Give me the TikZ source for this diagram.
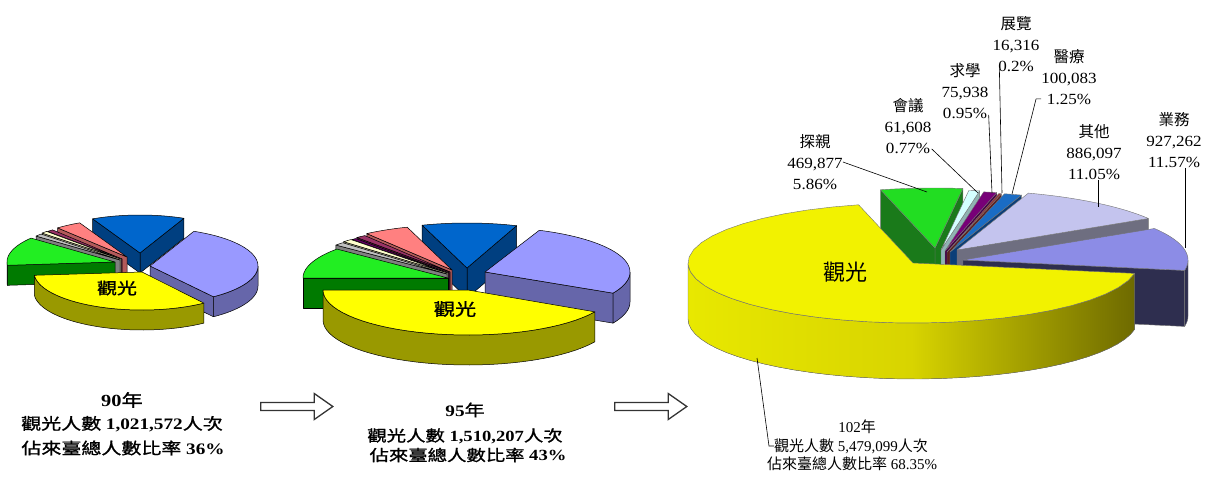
\documentclass[tikz,border=0pt]{standalone}
\usepackage{fontspec}
\setmainfont{Liberation Serif}
\newfontfamily\cjk{Noto Sans CJK TC}
\newfontfamily\cjkw{Noto Sans CJK TC}[FakeStretch=1.25,FakeBold=1.2]
\newfontfamily\latw{Liberation Serif}[FakeStretch=1.2]
\newfontfamily\latn{Liberation Serif}[FakeStretch=1.1]
\usetikzlibrary{shapes.arrows,positioning}
% colours of the first two pies
\definecolor{ytop}{HTML}{FFFF00}\definecolor{yside}{HTML}{999900}
\definecolor{ltop}{HTML}{9999FF}\definecolor{lside}{HTML}{6666AA}
\definecolor{btop}{HTML}{0066CC}\definecolor{bside}{HTML}{003F80}
\definecolor{ptop}{HTML}{FF8080}\definecolor{pside}{HTML}{B35A5A}
\definecolor{gtop}{HTML}{22EE22}\definecolor{gside}{HTML}{007A00}
\definecolor{mtop}{HTML}{993366}\definecolor{mside}{HTML}{5C1F3D}
\definecolor{ctop}{HTML}{FFFFCC}\definecolor{cside}{HTML}{B3B38F}
\definecolor{rtop}{HTML}{C0C0C0}\definecolor{rside}{HTML}{808080}
\definecolor{utop}{HTML}{660066}\definecolor{uside}{HTML}{400040}
% colours of the 102 pie
\definecolor{ytopc}{HTML}{F2F200}\definecolor{ysidel}{HTML}{E8E800}\definecolor{ysidem}{HTML}{D8D400}\definecolor{ysider}{HTML}{6E6A00}
\definecolor{wtopc}{HTML}{8C8CE6}\definecolor{wsidec}{HTML}{2E2E4F}
\definecolor{otopc}{HTML}{C4C4EE}\definecolor{osidec}{HTML}{6E6E80}
\definecolor{btopc}{HTML}{1A6CC4}\definecolor{bsidec}{HTML}{0B3E78}
\definecolor{mtopc}{HTML}{993333}\definecolor{msidec}{HTML}{5C1F1F}
\definecolor{utopc}{HTML}{770077}\definecolor{usidec}{HTML}{440044}
\definecolor{ctopc}{HTML}{D4FFFF}\definecolor{csidec}{HTML}{8FB3B3}
\definecolor{gtopc}{HTML}{22DD22}\definecolor{gsidec}{HTML}{1A7A1A}

\tikzset{pieline/.style={draw=black, line width=0.5pt, line join=round},
  lead/.style={draw=black, line width=0.6pt},
  lbl/.style={align=center, inner sep=0pt, font=\latn\fontsize{15.5}{21}\selectfont},
  captxt/.style={inner sep=0pt, font=\latw\bfseries\fontsize{16}{18}\selectfont},
  capsmall/.style={inner sep=0pt, font=\fontsize{15}{17}\selectfont},
  blockarr/.style={single arrow, draw=black!80, line width=1.3pt, fill=white, minimum height=72pt, minimum width=26pt, single arrow head extend=1.5pt, single arrow tip angle=70, inner sep=0pt}}

\newcommand{\cw}[1]{{\cjkw\mdseries #1}}
\newcommand{\cj}[1]{{\cjk #1}}
% outer rim of a slice between two angles
\newcommand{\sliceband}[5]{%
  \filldraw[pieline,#5] plot[domain=#3:#4,samples=36,variable=\t] ({#1+\pRx*cos(\t)},{#2-\pRy*sin(\t)})
    -- plot[domain=#4:#3,samples=36,variable=\t] ({#1+\pRx*cos(\t)},{#2+\pH-\pRy*sin(\t)}) -- cycle;}
% one exploded slice: cx, cy, from, to, top, rim, cut faces
\newcommand{\slicedraw}[7]{%
  \pgfmathsetmacro\slA{cos(#3)}\pgfmathsetmacro\slB{cos(#4)}%
  \ifdim\slA pt>0pt
    \filldraw[pieline,#7] (#1,#2) -- ({#1+\pRx*cos(#3)},{#2-\pRy*sin(#3)}) -- ++(0,\pH) -- (#1,{#2+\pH}) -- cycle;
  \fi
  \ifdim\slB pt<0pt
    \filldraw[pieline,#7] (#1,#2) -- ({#1+\pRx*cos(#4)},{#2-\pRy*sin(#4)}) -- ++(0,\pH) -- (#1,{#2+\pH}) -- cycle;
  \fi
  \pgfmathsetmacro\slLo{max(#3,180)}\pgfmathsetmacro\slHi{min(#4,360)}%
  \ifdim\slLo pt<\slHi pt \sliceband{#1}{#2}{\slLo}{\slHi}{#6}\fi
  \pgfmathsetmacro\slLo{max(#3,-180)}\pgfmathsetmacro\slHi{min(#4,0)}%
  \ifdim\slLo pt<\slHi pt \sliceband{#1}{#2}{\slLo}{\slHi}{#6}\fi
  \filldraw[pieline,#5] (#1,#2) -- plot[domain=#3:#4,samples=36,variable=\t] ({#1+\pRx*cos(\t)},{#2-\pRy*sin(\t)}) -- cycle;}

\begin{document}
\begin{tikzpicture}[x=1pt,y=-1pt]
\useasboundingbox (0,0) rectangle (1208,477);

% 90
\def\pRx{108}\def\pRy{38}\def\pH{20}
\slicedraw{140}{253}{66}{116}{fill=btop}{fill=bside}{fill=bside}
\slicedraw{127}{257}{116}{130}{fill=ptop}{fill=pside}{fill=pside}
\slicedraw{122}{259}{130}{133.5}{fill=mtop}{fill=mside}{fill=mside}
\slicedraw{121}{259}{133.5}{137}{fill=ctop}{fill=cside}{fill=cside}
\slicedraw{120}{260}{137}{141}{fill=rtop}{fill=rside}{fill=rside}
\slicedraw{115}{262}{141}{185}{fill=gtop}{fill=gside}{fill=gside}
\slicedraw{150}{266}{-54}{66}{fill=ltop}{fill=lside}{fill=lside}
\slicedraw{142}{272}{185}{305}{fill=ytop}{fill=yside}{fill=yside}
\node[captxt] (lbA) at (117,288) {\cw{觀光}};

\node[captxt, font=\latw\bfseries\fontsize{17}{19}\selectfont] (t90a) at (122,400) {90\cw{年}};
\node[captxt] (t90b) at (122,424) {\cw{觀光人數} 1,021,572\cw{人次}};
\node[captxt] (t90c) at (123,448) {\cw{佔來臺總人數比率} 36\%};

\node[blockarr] (arrA) at (294,406.5) {};

% 95
\def\pRx{145}\def\pRy{45}\def\pH{30}
\slicedraw{467}{268}{70}{108}{fill=btop}{fill=bside}{fill=bside}
\slicedraw{452}{270}{108}{126}{fill=ptop}{fill=pside}{fill=pside}
\slicedraw{450}{272}{126}{130}{fill=mtop}{fill=mside}{fill=mside}
\slicedraw{449}{273}{130}{132}{fill=utop}{fill=uside}{fill=uside}
\slicedraw{448}{273}{132}{136}{fill=ctop}{fill=cside}{fill=cside}
\slicedraw{447}{274}{136}{140}{fill=rtop}{fill=rside}{fill=rside}
\slicedraw{448}{278}{140}{180}{fill=gtop}{fill=gside}{fill=gside}
\slicedraw{485}{272}{-28}{68}{fill=ltop}{fill=lside}{fill=lside}
\slicedraw{468}{290}{180}{331}{fill=ytop}{fill=yside}{fill=yside}
\node[captxt, font=\latw\bfseries\fontsize{17}{19}\selectfont] (lbB) at (455,309) {\cw{觀光}};

\node[captxt] (t95a) at (465,410) {95\cw{年}};
\node[captxt, font=\latw\bfseries\fontsize{15.5}{17}\selectfont] (t95b) at (465,436) {\cw{觀光人數} 1,510,207\cw{人次}};
\node[captxt, font=\latw\bfseries\fontsize{15.5}{17}\selectfont] (t95c) at (468,455) {\cw{佔來臺總人數比率} 43\%};

\node[blockarr] (arrB) at (648,406.5) {};

% 102
\begin{scope}
\def\pRx{225}\def\pRy{60}\def\pH{56}
\tikzset{pieline/.style={draw=black!55, line width=0.4pt, line join=round}}
\slicedraw{935}{248}{82.9}{104}{fill=gtopc}{fill=gsidec}{fill=gsidec}
\slicedraw{941}{250}{80.1}{82.9}{fill=ctopc}{fill=csidec}{fill=csidec}
\slicedraw{945}{251}{76.7}{80.1}{fill=utopc}{fill=usidec}{fill=usidec}
\slicedraw{947}{252}{76}{76.7}{fill=mtopc}{fill=msidec}{fill=msidec}
\slicedraw{950}{252}{71.5}{76}{fill=btopc}{fill=bsidec}{fill=bsidec}
\slicedraw{957}{250}{31.7}{71.5}{fill=otopc}{fill=osidec}{fill=osidec}
\slicedraw{963}{260}{-10}{31.7}{fill=wtopc}{fill=wsidec}{fill=wsidec}
\slicedraw{913}{263}{104}{350}{fill=ytopc}{left color=ysidel, right color=ysider, middle color=ysidem}{fill=ysider}
\end{scope}
\node[inner sep=0pt, font=\cjk\fontsize{22}{24}\selectfont] (lbC) at (845,272) {觀光};

\node[lbl] (lbTanqin) at (815,162) {\cj{探親}\\469,877\\5.86\%};
\node[lbl] (lbHuiyi) at (908,126) {\cj{會議}\\61,608\\0.77\%};
\node[lbl] (lbQiuxue) at (965,91) {\cj{求學}\\75,938\\0.95\%};
\node[lbl] (lbZhanlan) at (1016,44) {\cj{展覽}\\16,316\\0.2\%};
\node[lbl] (lbYiliao) at (1069,77) {\cj{醫療}\\100,083\\1.25\%};
\node[lbl] (lbQita) at (1094,152) {\cj{其他}\\886,097\\11.05\%};
\node[lbl] (lbYewu) at (1174,140) {\cj{業務}\\927,262\\11.57\%};

\coordinate (ptTanqin) at (927,192);
\coordinate (ptHuiyi) at (978,193);
\coordinate (ptQiuxue) at (992,193);
\coordinate (ptZhanlan) at (1002,193);
\coordinate (ptYiliao) at (1012,194);
\coordinate (ptQita) at (1098,207);
\coordinate (ptYewu) at (1185,248);
\coordinate (ptGuang) at (757,358);

\draw[lead] (lbTanqin.east) -- (ptTanqin);
\draw[lead] ([yshift=5pt]lbHuiyi.south east) -- (ptHuiyi);
\draw[lead] ([yshift=4pt]lbQiuxue.south east) -- (ptQiuxue);
\draw[lead] ([xshift=7pt,yshift=3pt]lbZhanlan.south west) -- (ptZhanlan);
\draw[lead] ([yshift=6pt]lbYiliao.south west) -- ++(-5,0) -- (ptYiliao);
\draw[lead] (lbQita.south -| ptQita) -- (ptQita);
\draw[lead] (lbYewu.south -| ptYewu) -- (ptYewu);

\node[capsmall] (t102a) at (857,427) {102\cj{年}};
\node[capsmall, anchor=west] (t102b) at (774,446) {\cj{觀光人數} 5,479,099\cj{人次}};
\node[capsmall, anchor=west] (t102c) at (767,464) {\cj{佔來臺總人數比率} 68.35\%};
\draw[lead] (ptGuang) -- ([xshift=-5pt]t102b.west) -- (t102b.west);
\end{tikzpicture}
\end{document}
